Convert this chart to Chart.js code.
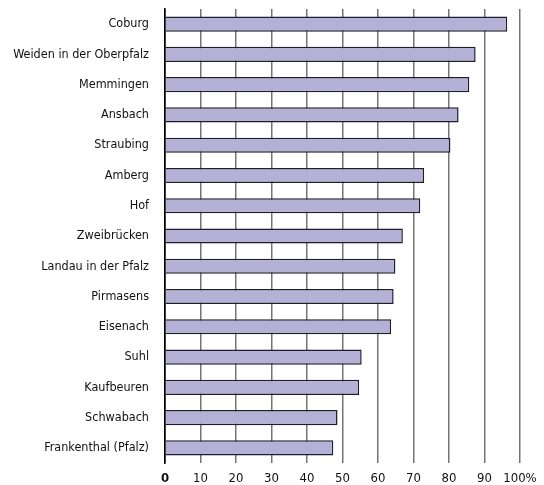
<!DOCTYPE html>
<html>
<head>
<meta charset="utf-8">
<script src="https://cdn.jsdelivr.net/npm/chart.js@4/dist/chart.umd.min.js"></script>
<style>
  html, body { margin: 0; padding: 0; background: #fff; }
  #wrap { width: 544px; height: 485px; }
</style>
</head>
<body>
<div id="wrap"><canvas id="chart" width="544" height="485"></canvas></div>
<script>
const cities = ['Coburg', 'Weiden in der Oberpfalz', 'Memmingen', 'Ansbach', 'Straubing', 'Amberg', 'Hof',
  'Zweibrücken', 'Landau in der Pfalz', 'Pirmasens', 'Eisenach', 'Suhl', 'Kaufbeuren', 'Schwabach', 'Frankenthal (Pfalz)'];
const shares = [96.4, 87.5, 85.7, 82.7, 80.4, 73.0, 71.9, 67.0, 64.9, 64.4, 63.7, 55.4, 54.7, 48.6, 47.4];
const xTicks = [0, 10, 20, 30, 40, 50, 60, 70, 80, 90, 100];

const FONT = "'DejaVu Sans Condensed', 'Liberation Sans Narrow', sans-serif";

new Chart(document.getElementById('chart'), {
  type: 'bar',
  data: {
    labels: cities,
    datasets: [{ data: shares, backgroundColor: '#b4b0d6', borderColor: '#1e1e2a', borderWidth: 1.5, borderSkipped: 'left', barPercentage: 0.5, categoryPercentage: 1 }]
  },
  options: {
    indexAxis: 'y',
    responsive: false, animation: false,
    layout: { padding: { top: 9, right: 24, left: 0, bottom: 0 } },
    plugins: { legend: { display: false }, tooltip: { enabled: false } },
    scales: {
      x: {
        min: 0, max: 100,
        afterBuildTicks: (s) => { s.ticks = xTicks.map((v) => ({ value: v })); },
        afterFit: (s) => { s.height = 22; s.paddingLeft = 0; s.paddingRight = 0; },
        grid: { color: (c) => c.tick && c.tick.value === 0 ? '#000' : '#747474', lineWidth: 1.5, drawTicks: false },
        border: { display: false },
        ticks: {
          padding: 8, color: '#111', maxRotation: 0, minRotation: 0, autoSkip: false,
          font: (c) => ({ family: FONT, size: 13, weight: c.tick && c.tick.value === 0 ? 'bold' : 'normal' }),
          callback: (v) => v === 100 ? '100%' : v
        }
      },
      y: {
        afterFit: (s) => { s.width = 165; s.paddingTop = 0; s.paddingBottom = 0; },
        grid: { display: false, drawTicks: false },
        border: { display: true, color: '#000', width: 1.5 },
        ticks: { padding: 16, color: '#111', font: { family: FONT, size: 12.5 } }
      }
    }
  }
});
</script>
</body>
</html>
